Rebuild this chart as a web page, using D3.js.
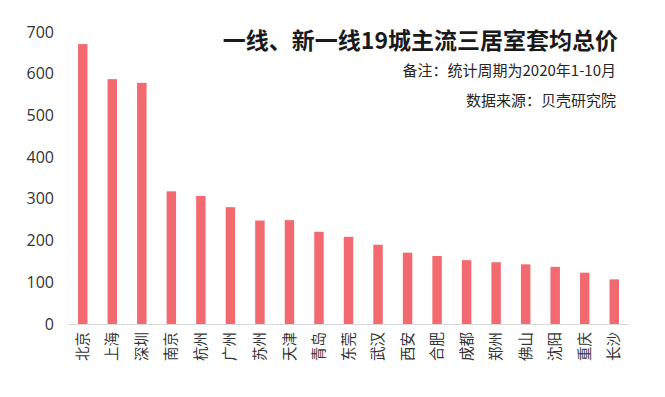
<!DOCTYPE html>
<html lang="zh">
<head>
<meta charset="UTF-8">
<script src="https://d3js.org/d3.v7.min.js"></script>
<style>
  body { margin: 0; background: #fff; }
  svg { display: block; font-family: "Noto Sans CJK SC", "Noto Sans", sans-serif; }
</style>
</head>
<body>
<div id="chart"></div>
<script>
// cities and average total price (10k yuan) of 3-bedroom units
var cities = ["北京","上海","深圳","南京","杭州","广州","苏州","天津","青岛","东莞",
              "武汉","西安","合肥","成都","郑州","佛山","沈阳","重庆","长沙"];
var prices = [671, 587, 578, 318, 307, 280, 248, 249, 221, 209,
              190, 171, 163, 153, 148, 143, 137, 123, 107];
var yTicks = [0, 100, 200, 300, 400, 500, 600, 700];

var width = 665, height = 397;
var plotLeft = 68, plotRight = 629, plotTop = 32, plotBottom = 324;

var svg = d3.select("#chart").append("svg")
    .attr("width", width)
    .attr("height", height);

var x = d3.scaleBand()
    .domain(cities)
    .range([plotLeft, plotRight])
    .paddingInner(0.68)
    .paddingOuter(0.34);

var y = d3.scaleLinear()
    .domain([0, 700])
    .range([plotBottom, plotTop]);

// bars
svg.selectAll("rect.bar")
    .data(cities)
    .join("rect")
    .attr("class", "bar")
    .attr("x", function(d){ return x(d); })
    .attr("width", x.bandwidth())
    .attr("y", function(d, i){ return y(prices[i]); })
    .attr("height", function(d, i){ return plotBottom - y(prices[i]); })
    .attr("fill", "#f2696f");

// baseline
svg.append("line")
    .attr("x1", plotLeft).attr("x2", plotRight)
    .attr("y1", plotBottom + 0.5).attr("y2", plotBottom + 0.5)
    .attr("stroke", "#d9d9d9")
    .attr("stroke-width", 1);

// y axis labels
var yAxis = svg.append("g")
    .attr("transform", "translate(" + 54 + ",0)")
    .call(d3.axisLeft(y).tickValues(yTicks).tickSize(0).tickPadding(0));
yAxis.select(".domain").remove();
yAxis.selectAll("text")
    .attr("font-size", "16px")
    .attr("fill", "#333")
    .attr("font-family", "\"Open Sans\", \"Noto Sans\", sans-serif");

// x axis labels, vertical
var xAxis = svg.append("g")
    .attr("transform", "translate(0," + plotBottom + ")")
    .call(d3.axisBottom(x).tickSize(0));
xAxis.select(".domain").remove();
xAxis.selectAll("text")
    .attr("font-size", "14.5px")
    .attr("fill", "#333")
    .attr("font-family", "\"Noto Sans CJK SC\", sans-serif")
    .attr("transform", "rotate(-90)")
    .attr("text-anchor", "end")
    .attr("dy", "0.35em")
    .attr("x", -8)
    .attr("y", 0);

// title and notes
svg.append("text")
    .attr("x", 618).attr("y", 49)
    .attr("text-anchor", "end")
    .attr("font-size", "23px")
    .attr("font-weight", "bold")
    .attr("fill", "#1a1a1a")
    .text("一线、新一线19城主流三居室套均总价");

svg.append("text")
    .attr("x", 616).attr("y", 76)
    .attr("text-anchor", "end")
    .attr("font-size", "15px")
    .attr("fill", "#262626")
    .text("备注：统计周期为2020年1-10月");

svg.append("text")
    .attr("x", 616).attr("y", 106)
    .attr("text-anchor", "end")
    .attr("font-size", "15px")
    .attr("fill", "#262626")
    .text("数据来源：贝壳研究院");
</script>
</body>
</html>
